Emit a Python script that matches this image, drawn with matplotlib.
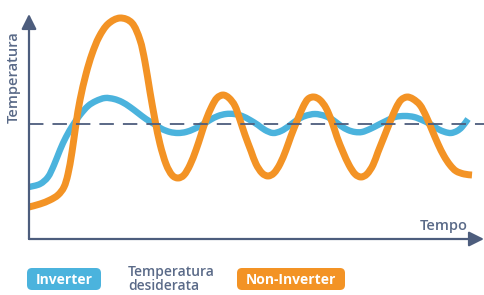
import matplotlib
matplotlib.use("Agg")
import matplotlib.pyplot as plt
from matplotlib.patches import FancyBboxPatch, PathPatch
from matplotlib.path import Path
from matplotlib.transforms import IdentityTransform

# ---- data (arbitrary units) ----
orange_time = [0, 11, 21, 29, 35, 39, 43, 47, 51, 57, 63, 70, 79, 91, 103, 111, 116, 121, 126, 131,
               137, 143, 149, 155, 161, 167, 172, 177, 183, 188, 194, 200, 206, 211, 216, 222, 227, 233,
               239, 245, 251, 257, 262, 268, 274, 279, 285, 291, 297, 303, 308, 314, 320, 326, 332, 338,
               344, 349, 355, 361, 367, 372, 378, 384, 391, 397, 403, 409, 415, 421, 427, 435, 443]
orange_temp = [32, 35, 39, 44, 52, 65, 87, 115, 139, 165, 185, 202, 215, 221, 216, 199, 177, 147, 119, 95,
               75, 64, 61, 64, 74, 89, 104, 119, 133, 141, 144, 141, 133, 119, 104, 88, 75, 66,
               63, 66, 75, 89, 103, 118, 132, 140, 142, 139, 131, 117, 102, 87, 74, 65, 62, 65,
               74, 87, 102, 117, 131, 139, 142, 140, 134, 123, 109, 95, 83, 74, 68, 65, 64]
blue_time = [0, 11, 19, 25, 31, 37, 44, 51, 59, 67, 76, 85, 93, 101, 109, 117, 125, 133, 141, 149,
             157, 165, 173, 181, 189, 197, 205, 213, 221, 229, 236, 244, 252, 260, 268, 276, 286, 296,
             304, 312, 319, 326, 333, 341, 349, 357, 366, 376, 385, 393, 401, 409, 416, 422, 428, 433, 439]
blue_temp = [52, 55, 62, 74, 89, 102, 114, 124, 133, 138, 141, 140, 137, 132, 126, 120, 115, 110, 107, 106,
             107, 110, 114, 119, 123, 125, 125, 123, 119, 114, 109, 106, 108, 113, 119, 123, 125, 123,
             119, 113, 109, 107, 107, 110, 114, 118, 122, 123, 122, 119, 115, 110, 107, 106, 108, 112, 120]
target_temp = 115
x_max, y_max = 455, 225

labels = {"y": "Temperatura", "x": "Tempo", "inv": "Inverter",
          "target": "Temperatura\ndesiderata", "noninv": "Non-Inverter"}

ORANGE = "#F39325"
BLUE = "#4BB3DD"
SLATE = "#4D5D7D"
TEXT = "#5A6A88"

plt.rcParams["font.family"] = ["Open Sans", "DejaVu Sans"]

W, H = 484, 295
fig = plt.figure(figsize=(W / 100, H / 100), dpi=100)
ax = fig.add_axes([29 / W, 56 / H, 455 / W, 225 / H])
ax.set_xlim(0, x_max)
ax.set_ylim(0, y_max)
ax.axis("off")


def smooth_path(xs, ys):
    """Bezier path passing through every data point (Catmull-Rom style rendering)."""
    pts = list(zip(xs, ys))
    n = len(pts)
    verts = [pts[0]]
    codes = [Path.MOVETO]
    for i in range(n - 1):
        p0 = pts[i - 1] if i > 0 else pts[i]
        p1 = pts[i]
        p2 = pts[i + 1]
        p3 = pts[i + 2] if i + 2 < n else pts[i + 1]
        c1 = (p1[0] + (p2[0] - p0[0]) / 6, p1[1] + (p2[1] - p0[1]) / 6)
        c2 = (p2[0] - (p3[0] - p1[0]) / 6, p2[1] - (p3[1] - p1[1]) / 6)
        verts += [c1, c2, p2]
        codes += [Path.CURVE4] * 3
    return Path(verts, codes)


ax.add_patch(PathPatch(smooth_path(blue_time, blue_temp), facecolor="none", edgecolor=BLUE,
                       lw=4.6, capstyle="butt", joinstyle="round", zorder=2, clip_on=False))
ax.add_patch(PathPatch(smooth_path(orange_time, orange_temp), facecolor="none", edgecolor=ORANGE,
                       lw=5.0, capstyle="butt", joinstyle="round", zorder=3, clip_on=False))
ax.plot([0, x_max], [target_temp, target_temp], color=SLATE, lw=1.3,
        dashes=(8, 5), zorder=4, clip_on=False)

# axes arrows
arrow_kw = dict(arrowstyle="-|>,head_length=0.9,head_width=0.45", color=SLATE, lw=1.6,
                shrinkA=0, shrinkB=0)
ax.annotate("", xy=(0, 1.0), xytext=(0, 0), xycoords="axes fraction",
            arrowprops=arrow_kw, zorder=5)
ax.annotate("", xy=(1.0, 0), xytext=(0, 0), xycoords="axes fraction",
            arrowprops=arrow_kw, zorder=5)


def fx(px):
    return px / W


def fy(py):
    return 1 - py / H


fig.text(fx(14), fy(77), labels["y"], rotation=90, ha="center", va="center",
         color=TEXT, fontsize=10.5, fontweight="semibold")
fig.text(fx(468), fy(226), labels["x"], ha="right", va="center",
         color=TEXT, fontsize=10.5, fontweight="semibold")


def pill(x0, y0, x1, y1, color, text):
    p = FancyBboxPatch((x0, H - y1), x1 - x0, y1 - y0,
                       boxstyle="round,pad=0,rounding_size=5",
                       transform=IdentityTransform(), facecolor=color, edgecolor="none")
    fig.patches.append(p)
    fig.text(fx((x0 + x1) / 2), fy((y0 + y1) / 2 + 0.5), text, ha="center", va="center",
             color="white", fontsize=10, fontweight="bold")


pill(27, 268, 101, 290, BLUE, labels["inv"])
pill(237, 268, 345, 290, ORANGE, labels["noninv"])
fig.text(fx(128), fy(279), labels["target"], ha="left", va="center", color=TEXT,
         fontsize=10, fontweight="semibold", linespacing=0.95)

fig.savefig("out.png", dpi=100)
